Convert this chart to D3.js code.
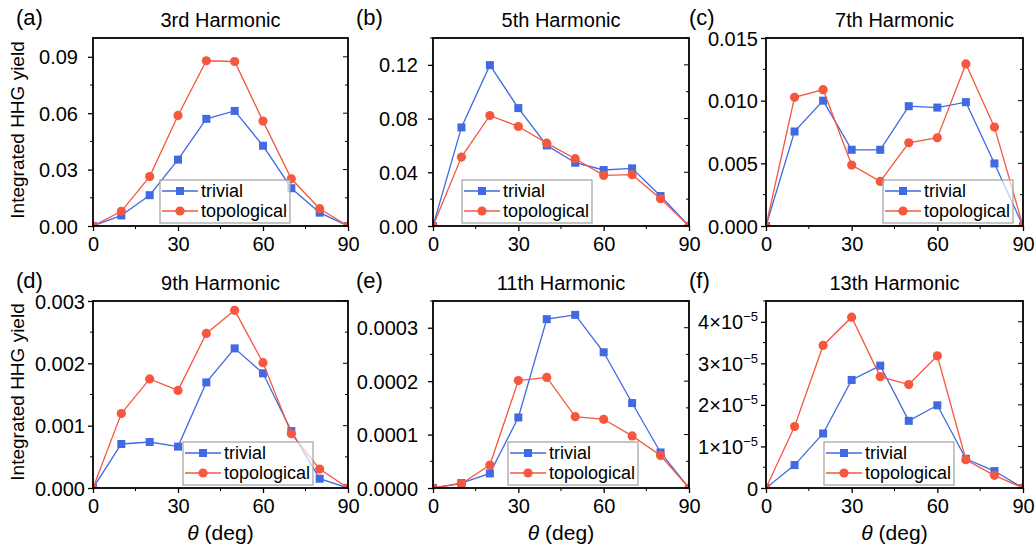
<!DOCTYPE html>
<html>
<head>
<meta charset="utf-8">
<script src="https://cdn.jsdelivr.net/npm/d3@7"></script>
<style>
  body { margin: 0; background: #fff; }
  text { font-family: Arial, "Liberation Sans", sans-serif; fill: #000; }
</style>
</head>
<body>
<svg id="chart"></svg>
<script>
// Angles (deg) shared by every panel
const angles = [0, 10, 20, 30, 40, 50, 60, 70, 80, 90];

const titles = ["3rd Harmonic", "5th Harmonic", "7th Harmonic", "9th Harmonic", "11th Harmonic", "13th Harmonic"];
const panelLabels = ["(a)", "(b)", "(c)", "(d)", "(e)", "(f)"];
const seriesNames = ["trivial", "topological"];

// Integrated HHG yield
const trivial3 = [0, 0.0056, 0.0164, 0.0353, 0.0570, 0.0612, 0.0427, 0.0201, 0.0071, 0];
const topo3    = [0, 0.0078, 0.0263, 0.0588, 0.0879, 0.0875, 0.0558, 0.0251, 0.0092, 0];
const trivial5 = [0, 0.0734, 0.1198, 0.0878, 0.0600, 0.0471, 0.0417, 0.0429, 0.0223, 0];
const topo5    = [0, 0.0513, 0.0823, 0.0741, 0.0617, 0.0501, 0.0377, 0.0382, 0.0203, 0];
const trivial7 = [0, 0.00754, 0.0100, 0.00608, 0.00608, 0.00956, 0.00945, 0.00988, 0.00499, 0];
const topo7    = [0, 0.01027, 0.01088, 0.00486, 0.00356, 0.00664, 0.00704, 0.01293, 0.00789, 0];
const trivial9 = [0, 0.000706, 0.000738, 0.000664, 0.001694, 0.00224, 0.00184, 0.000913, 0.000149, 0];
const topo9    = [0, 0.001195, 0.00175, 0.001566, 0.00248, 0.00285, 0.00201, 0.00087, 0.000303, 0];
const trivial11 = [0, 0.0000093, 0.0000273, 0.000132, 0.000316, 0.000324, 0.000254, 0.000159, 0.0000665, 0];
const topo11    = [0, 0.0000081, 0.0000429, 0.000201, 0.000207, 0.0001335, 0.0001286, 0.0000975, 0.0000609, 0];
const trivial13 = [0, 0.552e-5, 1.312e-5, 2.6e-5, 2.944e-5, 1.616e-5, 1.99e-5, 0.704e-5, 0.408e-5, 0];
const topo13    = [0, 1.48e-5, 3.43e-5, 4.11e-5, 2.68e-5, 2.49e-5, 3.18e-5, 0.68e-5, 0.304e-5, 0];

const trivialSeries = [trivial3, trivial5, trivial7, trivial9, trivial11, trivial13];
const topoSeries = [topo3, topo5, topo7, topo9, topo11, topo13];

// Axis ranges and ticks
const yMaxes = [0.1, 0.14, 0.015, 0.003, 0.00035, 0.000045];
const yTicks = [
  [0, 0.03, 0.06, 0.09],
  [0, 0.04, 0.08, 0.12],
  [0, 0.005, 0.010, 0.015],
  [0, 0.001, 0.002, 0.003],
  [0, 0.0001, 0.0002, 0.0003],
  [0, 1e-5, 2e-5, 3e-5, 4e-5]
];
const yTickLabels = [
  ["0.00", "0.03", "0.06", "0.09"],
  ["0.00", "0.04", "0.08", "0.12"],
  ["0.000", "0.005", "0.010", "0.015"],
  ["0.000", "0.001", "0.002", "0.003"],
  ["0.0000", "0.0001", "0.0002", "0.0003"],
  ["0", "1×10^-5", "2×10^-5", "3×10^-5", "4×10^-5"]
];
const xTicks = [0, 30, 60, 90];
const xMinorTicks = [15, 45, 75];

const width = 1036, height = 545;
const svg = d3.select("#chart").attr("width", width).attr("height", height);

const blue = "#4169e1", red = "#f5573f";

// plot boxes [left, top, right, bottom] and legend corners
const cols = [[93, 348], [433, 689], [766, 1023]];
const rows = [[38, 226], [301, 488]];
const legendPos = [[160, 180], [462, 180], [883, 180], [183, 442], [508, 442], [824, 442]];
const labelPad = [10, 10, 3, 3, 10, 3];

// split "1×10^-5" into base and superscript
function drawTickLabel(sel, str) {
  const parts = str.split("^");
  sel.text(null);
  sel.append("tspan").text(parts[0]);
  if (parts[1]) {
    sel.append("tspan").attr("dy", -8).attr("font-size", 13).text(parts[1].replace("-", "−"));
  }
}

for (let i = 0; i < 6; i++) {
  const [x0, x1] = cols[i % 3];
  const [y0, y1] = rows[Math.floor(i / 3)];

  const x = d3.scaleLinear().domain([0, 90]).range([x0, x1]);
  const y = d3.scaleLinear().domain([0, yMaxes[i]]).range([y1, y0]);

  const g = svg.append("g");

  // minor y ticks halfway between majors
  const step = yTicks[i][1] - yTicks[i][0];
  const yMinor = d3.range(step / 2, yMaxes[i] + 1e-12, step);

  // clip for the lines
  g.append("clipPath").attr("id", "clip" + i)
    .append("rect").attr("x", x0).attr("y", y0).attr("width", x1 - x0).attr("height", y1 - y0);

  const plot = g.append("g").attr("clip-path", `url(#clip${i})`);
  const line = d3.line().x((d, k) => x(angles[k])).y(d => y(d));

  // trivial
  plot.append("path").datum(trivialSeries[i])
    .attr("d", line).attr("fill", "none").attr("stroke", blue).attr("stroke-width", 1.3);
  plot.selectAll(".sq").data(trivialSeries[i]).join("rect")
    .attr("x", (d, k) => x(angles[k]) - 4).attr("y", d => y(d) - 4)
    .attr("width", 8).attr("height", 8).attr("fill", blue);

  // topological
  plot.append("path").datum(topoSeries[i])
    .attr("d", line).attr("fill", "none").attr("stroke", red).attr("stroke-width", 1.3);
  plot.selectAll(".ci").data(topoSeries[i]).join("circle")
    .attr("cx", (d, k) => x(angles[k])).attr("cy", d => y(d))
    .attr("r", 4.6).attr("fill", red);

  // left axis
  const yAxis = g.append("g").attr("transform", `translate(${x0},0)`)
    .call(d3.axisLeft(y).tickValues(yTicks[i]).tickSize(5).tickSizeOuter(0).tickPadding(labelPad[i]).tickFormat(""));
  yAxis.selectAll(".tick text").each(function (d, k) {
    d3.select(this).call(drawTickLabel, yTickLabels[i][k]);
  }).attr("font-size", 20).attr("dy", "0.35em");
  yAxis.append("g").selectAll("line").data(yMinor).join("line")
    .attr("x1", 0).attr("x2", -3).attr("y1", d => y(d)).attr("y2", d => y(d)).attr("stroke", "#000");

  // bottom axis
  const xAxis = g.append("g").attr("transform", `translate(0,${y1})`)
    .call(d3.axisBottom(x).tickValues(xTicks).tickSize(5).tickSizeOuter(0).tickPadding(6));
  xAxis.selectAll(".tick text").attr("font-size", 20);
  xAxis.append("g").selectAll("line").data(xMinorTicks).join("line")
    .attr("x1", d => x(d)).attr("x2", d => x(d)).attr("y1", 0).attr("y2", 3).attr("stroke", "#000");

  // right axis ticks pointing inwards
  g.append("g").selectAll("line").data(yTicks[i]).join("line")
    .attr("x1", x1).attr("x2", x1 - 5).attr("y1", d => y(d)).attr("y2", d => y(d)).attr("stroke", "#000");
  g.append("g").selectAll("line").data(yMinor).join("line")
    .attr("x1", x1).attr("x2", x1 - 3).attr("y1", d => y(d)).attr("y2", d => y(d)).attr("stroke", "#000");

  g.selectAll(".domain").attr("stroke", "none");
  g.selectAll(".tick line").attr("stroke-width", 1.3);

  // frame
  g.append("rect").attr("x", x0).attr("y", y0).attr("width", x1 - x0).attr("height", y1 - y0)
    .attr("fill", "none").attr("stroke", "#000").attr("stroke-width", 1.8);

  // title and panel letter
  g.append("text").attr("x", (x0 + x1) / 2).attr("y", y0 - 11)
    .attr("text-anchor", "middle").attr("font-size", 20).text(titles[i]);
  g.append("text").attr("x", x0 - 77).attr("y", y0 - 13)
    .attr("font-size", 22).text(panelLabels[i]);

  // legend
  const [lx, ly] = legendPos[i];
  const leg = g.append("g").attr("transform", `translate(${lx},${ly})`);
  leg.append("rect").attr("x", 0).attr("y", 0).attr("width", 130).attr("height", 43)
    .attr("fill", "#fff").attr("fill-opacity", 0.65).attr("stroke", "#a0a0a0").attr("stroke-width", 1.2);
  [blue, red].forEach((c, k) => {
    const ry = 11 + k * 20;
    leg.append("line").attr("x1", 2).attr("x2", 38).attr("y1", ry).attr("y2", ry)
      .attr("stroke", c).attr("stroke-width", 1.3);
    if (k === 0) {
      leg.append("rect").attr("x", 16).attr("y", ry - 4).attr("width", 8).attr("height", 8).attr("fill", c);
    } else {
      leg.append("circle").attr("cx", 20).attr("cy", ry).attr("r", 4.6).attr("fill", c);
    }
    leg.append("text").attr("x", 41).attr("y", ry).attr("dy", "0.35em")
      .attr("font-size", 18).text(seriesNames[k]);
  });

  // x label on bottom row
  if (i >= 3) {
    const xl = svg.append("text").attr("x", (x0 + x1) / 2).attr("y", 540)
      .attr("text-anchor", "middle").attr("font-size", 21);
    xl.append("tspan").attr("font-style", "italic").text("θ");
    xl.append("tspan").text(" (deg)");
  }
}

// y labels
[130, 392].forEach(cy => {
  svg.append("text").attr("transform", `translate(24,${cy}) rotate(-90)`)
    .attr("text-anchor", "middle").attr("font-size", 19).text("Integrated HHG yield");
});
</script>
</body>
</html>
